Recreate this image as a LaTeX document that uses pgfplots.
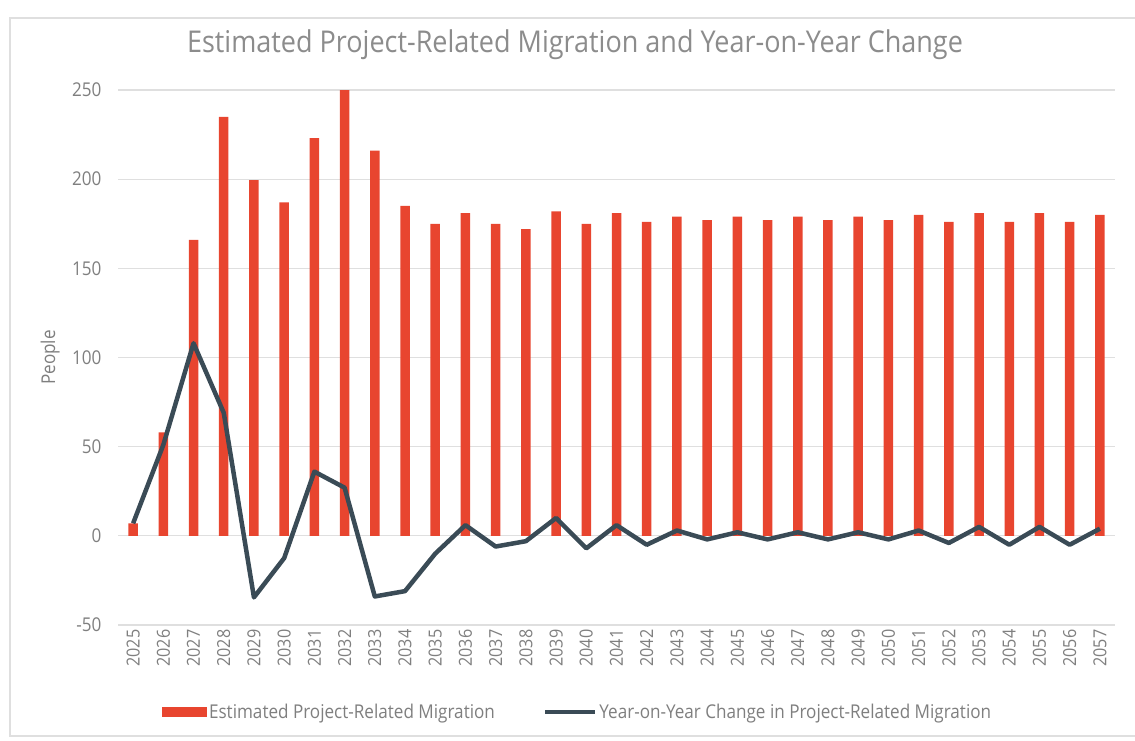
\documentclass[border=0pt]{standalone}
\usepackage{fontspec}
\setmainfont[FakeStretch=0.9]{Open Sans}
\usepackage{pgfplots}
\pgfplotsset{compat=1.18}
\definecolor{barred}{HTML}{E8452F}
\definecolor{linegray}{HTML}{3A4B56}
\definecolor{txtgray}{HTML}{7F7F7F}
\begin{document}
\begin{tikzpicture}[x=1pt,y=1pt]
\useasboundingbox (0,0) rectangle (1135,740);
\draw[gray!25, line width=1.5pt] (10,4) rectangle (1136,722);
\node[font=\fontsize{30}{35}\selectfont, text=txtgray!90] at (575,695) {Estimated Project-Related Migration and Year-on-Year Change};
\begin{axis}[
  at={(118pt,115pt)}, anchor=south west,
  scale only axis, width=997pt, height=535pt,
  xmin=2024.5, xmax=2057.5, ymin=-50, ymax=250,
  ytick={-50,0,50,100,150,200,250},
  xtick={2025,2026,...,2057},
  /pgf/number format/assume math mode=true,
  /pgf/number format/set thousands separator={},
  axis line style={draw=none},
  major tick length=0pt,
  ymajorgrids, grid style={gray!25, line width=1.2pt},
  yticklabel style={font=\fontsize{19}{22}\selectfont, text=txtgray, xshift=-13pt},
  xticklabel style={font=\fontsize{18}{20}\selectfont, text=txtgray, rotate=90, anchor=east, xshift=-1pt},
  ylabel={People}, ylabel style={font=\fontsize{19}{22}\selectfont, text=txtgray, at={(-0.055,0.5)}},
  legend columns=2,
  legend style={draw=none, at={(0.461,-0.163)}, anchor=center, font=\fontsize{19}{22}\selectfont, text=txtgray, /tikz/every even column/.append style={column sep=46pt}},
]
\addplot[ybar, bar width=9.5pt, fill=barred, draw=none,
  legend image code/.code={\fill[barred] (0pt,-5pt) rectangle (45pt,5pt);}]
coordinates {
(2025,7) (2026,58) (2027,166) (2028,235) (2029,199.5) (2030,187) (2031,223) (2032,250) (2033,216) (2034,185)
(2035,175) (2036,181) (2037,175) (2038,172) (2039,182) (2040,175) (2041,181) (2042,176) (2043,179) (2044,177)
(2045,179) (2046,177) (2047,179) (2048,177) (2049,179) (2050,177) (2051,180) (2052,176) (2053,181) (2054,176)
(2055,181) (2056,176) (2057,180)};
\addlegendentry{Estimated Project-Related Migration}
\addplot[linegray, line width=4.5pt, line join=round, mark=none,
  legend image code/.code={\draw[linegray, line width=4.5pt] (0pt,0pt) -- (50pt,0pt);}]
coordinates {
(2025,7) (2026,51) (2027,108) (2028,69) (2029,-34.5) (2030,-12.5) (2031,36) (2032,27) (2033,-34) (2034,-31)
(2035,-10) (2036,6) (2037,-6) (2038,-3) (2039,10) (2040,-7) (2041,6) (2042,-5) (2043,3) (2044,-2)
(2045,2) (2046,-2) (2047,2) (2048,-2) (2049,2) (2050,-2) (2051,3) (2052,-4) (2053,5) (2054,-5)
(2055,5) (2056,-5) (2057,4)};
\addlegendentry{Year-on-Year Change in Project-Related Migration}
\end{axis}
\end{tikzpicture}
\end{document}
